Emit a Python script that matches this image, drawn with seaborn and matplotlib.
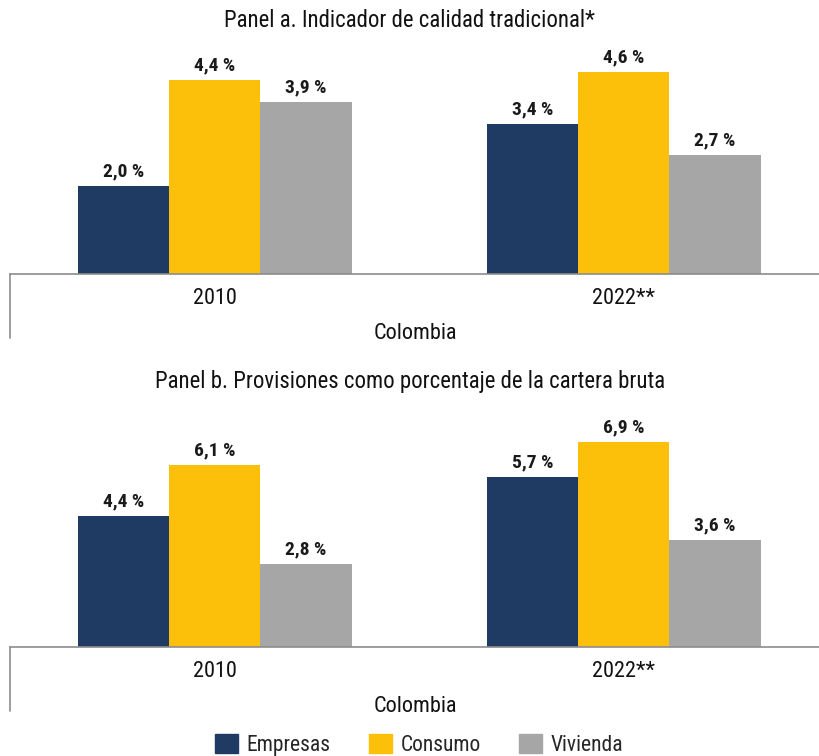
import pandas as pd
import matplotlib.pyplot as plt
import matplotlib.lines as mlines
import matplotlib.patches as mpatches
import seaborn as sns

years = ["2010", "2022**"]
series = ["Empresas", "Consumo", "Vivienda"]
panel_a = {"Empresas": [2.0, 3.4], "Consumo": [4.4, 4.6], "Vivienda": [3.9, 2.7]}
panel_b = {"Empresas": [4.4, 5.7], "Consumo": [6.1, 6.9], "Vivienda": [2.8, 3.6]}
titles = ["Panel a. Indicador de calidad tradicional*",
          "Panel b. Provisiones como porcentaje de la cartera bruta"]
colors = ["#1F3A63", "#FCC00A", "#A6A6A6"]

sns.set_theme(style="white")
plt.rcParams["font.family"] = ["Liberation Sans Narrow", "Roboto Condensed", "DejaVu Sans"]


def to_long(panel):
    rows = []
    for s in series:
        for y, v in zip(years, panel[s]):
            rows.append({"Año": y, "Serie": s, "Valor": v})
    return pd.DataFrame(rows)


fig = plt.figure(figsize=(8.2, 7.56), dpi=100)
ax_a = fig.add_axes([0.0122, 0.6376, 0.9878, 0.291])
ax_b = fig.add_axes([0.0122, 0.1442, 0.9878, 0.3150])

# (axes, data, title, y max, title y in figure coords)
for ax, panel, title, ymax, ty in [(ax_a, panel_a, titles[0], 5.0, 0.9735),
                                   (ax_b, panel_b, titles[1], 8.0, 0.496)]:
    df = to_long(panel)
    sns.barplot(data=df, x="Año", y="Valor", hue="Serie", hue_order=series,
                palette=colors, width=0.67, gap=0, saturation=1, linewidth=0,
                ax=ax, legend=False)
    for cont in ax.containers:
        labels = [f"{b.get_height():.1f}".replace(".", ",") + " %" for b in cont]
        ax.bar_label(cont, labels=labels, padding=4, fontsize=14, fontweight="bold",
                     color="#1a1a1a")
    ax.set_ylim(0, ymax)
    ax.set_xlim(-0.5, 1.48)
    ax.set_yticks([])
    ax.set_ylabel("")
    ax.set_xlabel("Colombia", fontsize=16, labelpad=10, color="#111111")
    ax.tick_params(axis="x", length=0, labelsize=16, pad=10, colors="#111111")
    for sp in ["top", "right", "left"]:
        ax.spines[sp].set_visible(False)
    ax.spines["bottom"].set_color("#8c8c8c")
    ax.spines["bottom"].set_linewidth(1.2)
    drop = 64 / (ax.get_position().height * 756)
    ax.add_line(mlines.Line2D([0, 0], [0, -drop], transform=ax.transAxes,
                              color="#8c8c8c", lw=1.2, clip_on=False))
    fig.text(0.5, ty, title, ha="center", va="center", fontsize=16.4, color="#111111")

handles = [mpatches.Patch(color=c, label=s) for c, s in zip(colors, series)]
fig.legend(handles=handles, loc="center", ncol=3, frameon=False,
           bbox_to_anchor=(0.511, 0.0145), fontsize=15.5, handlelength=1.07,
           handleheight=1.0, columnspacing=1.75, handletextpad=0.42,
           borderpad=0)

fig.savefig("out.png", dpi=100)
